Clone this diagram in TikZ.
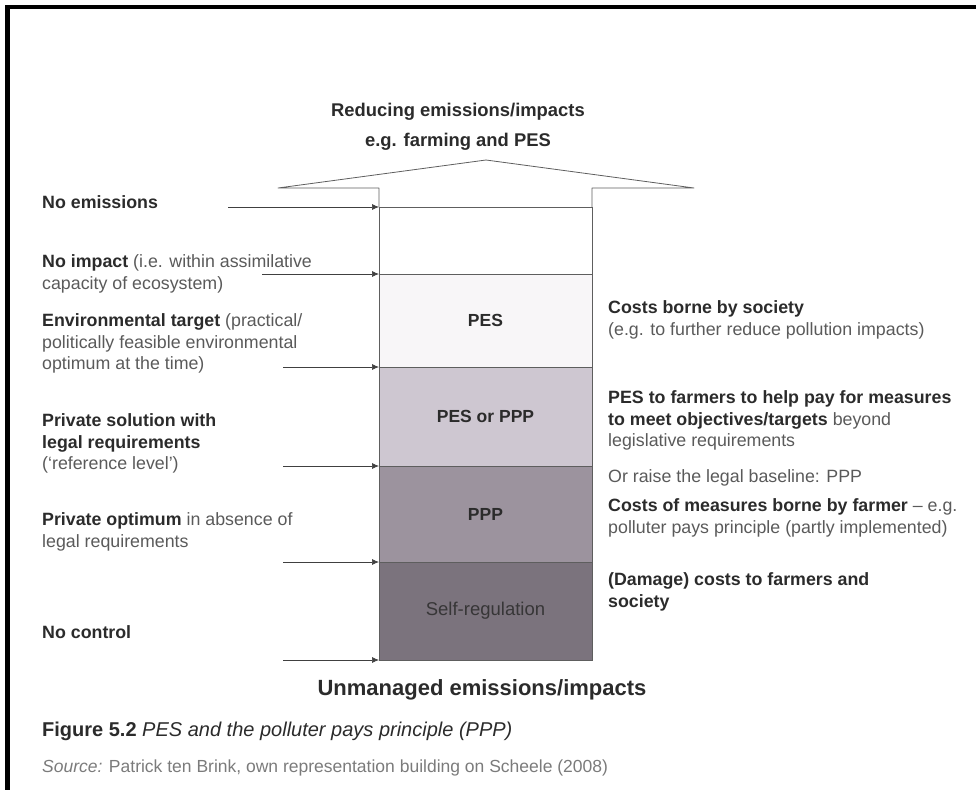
\documentclass[tikz,border=0pt]{standalone}
\usepackage{fontspec}
\setmainfont{Liberation Sans}
\usepackage{xcolor}
\usepackage{tikz}
\usetikzlibrary{arrows.meta, positioning}
\definecolor{txtdark}{HTML}{2B2B2B}
\definecolor{txtgrey}{HTML}{5A5A5A}
\definecolor{edgegrey}{HTML}{5E5E5E}
\definecolor{arrgrey}{HTML}{404040}
\definecolor{bandpes}{HTML}{F8F6F8}
\definecolor{bandmix}{HTML}{CEC7D1}
\definecolor{bandppp}{HTML}{9C939E}
\definecolor{bandself}{HTML}{7B737D}

\newcommand{\lblfont}{\fontsize{17.8}{21.5}\selectfont}
\newcommand{\keyterm}[1]{{\bfseries\color{txtdark}#1}}

\begin{document}
\begin{tikzpicture}[
    x=1pt, y=-1pt,
    band/.style  = {draw=edgegrey, line width=0.8pt, minimum width=213pt,
                    inner sep=0pt, outer sep=0pt, text=txtdark,
                    font=\fontsize{17.5}{20}\selectfont\bfseries},
    side/.style  = {anchor=north west, align=left, inner sep=0pt,
                    font=\lblfont, text=txtgrey},
    arr/.style   = {-{Latex[length=7pt,width=6pt]}, line width=0.7pt, color=arrgrey},
  ]
  \useasboundingbox (0,0) rectangle (976,790);

  %% Frame (top and left only)
  \fill[black] (5,5) rectangle (976,9);
  \fill[black] (5,5) rectangle (10,790);

  %% Title
  \node[align=center, text=txtdark, font=\fontsize{18.4}{30}\selectfont\bfseries]
    (title) at (458,127) {Reducing emissions/impacts\\e.g. farming and PES};

  %% Column bands
  \node[band, minimum height=67pt] (clean) at (485.5,240.5) {};
  \node[band, fill=bandpes, minimum height=93pt, below=0pt of clean] (pes) {PES};
  \node[band, fill=bandmix, minimum height=99pt, below=0pt of pes] (mix) {PES or PPP};
  \node[band, fill=bandppp, minimum height=96pt, below=0pt of mix] (ppp) {PPP};
  \node[band, fill=bandself, minimum height=98pt, below=0pt of ppp,
        font=\fontsize{18.5}{20}\selectfont, text=txtdark!85!bandself] (self) {Self-regulation};

  %% Arrow head on top of the column
  \draw[edgegrey, line width=0.8pt, line join=round]
    (clean.north west) -- (379,188) -- (278,188) -- (486,160)
    -- (694,188) -- (592,188) -- (clean.north east);

  %% Left labels
  \node[side] (noem) at (42,195.5) {\keyterm{No emissions}};
  \node[side] (noimp) at (42,254.5) {\keyterm{No impact} (i.e. within assimilative\\capacity of ecosystem)};
  \node[side] (envt) at (42,313.5) {\keyterm{Environmental target} (practical/\\politically feasible environmental\\optimum at the time)};
  \node[side] (privsol) at (42,413.5) {\keyterm{Private solution with}\\\keyterm{legal requirements}\\(`reference level')};
  \node[side] (privopt) at (42,512.5) {\keyterm{Private optimum} in absence of\\legal requirements};
  \node[side] (nocon) at (42,625.5) {\keyterm{No control}};

  %% Arrow tails
  \coordinate (noem-s)    at (228,207);
  \coordinate (noimp-s)   at (262,274);
  \coordinate (envt-s)    at (283,367);
  \coordinate (privsol-s) at (283,466);
  \coordinate (privopt-s) at (283,562);
  \coordinate (nocon-s)   at (283,660);

  \draw[arr] (noem-s)    -- (clean.north west);
  \draw[arr] (noimp-s)   -- (pes.north west);
  \draw[arr] (envt-s)    -- (mix.north west);
  \draw[arr] (privsol-s) -- (ppp.north west);
  \draw[arr] (privopt-s) -- (self.north west);
  \draw[arr] (nocon-s)   -- (self.south west);

  %% Right labels
  \node[side] (society) at (608,300.5) {\keyterm{Costs borne by society}\\(e.g. to further reduce pollution impacts)};
  \node[side] (pesfarm) at (608,390.5) {\keyterm{PES to farmers to help pay for measures}\\\keyterm{to meet objectives/targets} beyond\\legislative requirements};
  \node[side] (raise) at (608,469.5) {Or raise the legal baseline: PPP};
  \node[side] (farmer) at (608,498.5) {\keyterm{Costs of measures borne by farmer} -- e.g.\\polluter pays principle (partly implemented)};
  \node[side] (damage) at (608,572.5) {\keyterm{(Damage) costs to farmers and}\\\keyterm{society}};

  %% Bottom label and caption
  \node[text=txtdark, font=\fontsize{22}{24}\selectfont\bfseries]
    (unman) at (482,690) {Unmanaged emissions/impacts};
  \node[anchor=west, inner sep=0pt, text=txtdark, font=\fontsize{20}{22}\selectfont]
    (fig) at (42,731) {\textbf{Figure 5.2} \textit{PES and the polluter pays principle (PPP)}};
  \node[anchor=west, inner sep=0pt, text=txtgrey!80, font=\fontsize{17.5}{20}\selectfont]
    (src) at (42,768) {\textit{Source:} Patrick ten Brink, own representation building on Scheele (2008)};

\end{tikzpicture}
\end{document}
